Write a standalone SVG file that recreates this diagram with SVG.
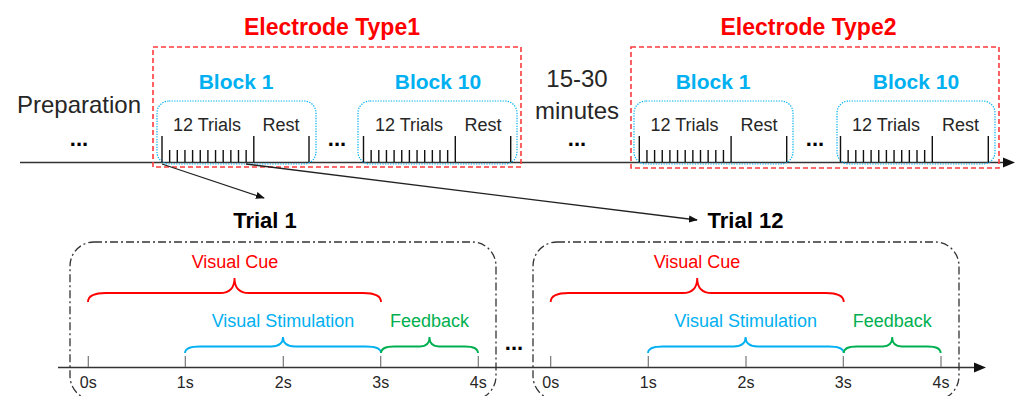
<svg xmlns="http://www.w3.org/2000/svg" width="1019" height="396" viewBox="0 0 1019 396">
<style>
text{font-family:"Liberation Sans",Arial,sans-serif;fill:#262626}
.title{font-size:23px;font-weight:bold;fill:#FF0000}
.blk{font-size:21px;font-weight:bold;fill:#00B0F0}
.big{font-size:24px}
.sm{font-size:18px}
.tk{font-size:16px}
.trial{font-size:22px;font-weight:bold;fill:#000}
.dots{font-size:22px;font-weight:bold;fill:#000}
.red{fill:#FF0000;font-size:18px}
.blue{fill:#00B0F0;font-size:18px}
.green{fill:#00B050;font-size:18px}
.etype{fill:none;stroke:#FF3B3B;stroke-width:1.6;stroke-dasharray:5 3}
.block{fill:none;stroke:#00B0F0;stroke-width:1.2;stroke-dasharray:1.3 1.3}
.tbox{fill:none;stroke:#333;stroke-width:1.3;stroke-dasharray:8 3 2 3}
.tick{stroke:#111;stroke-width:1.4}
.btick{stroke:#777;stroke-width:1.2}
.axis{stroke:#333;stroke-width:1.4;fill:none}
.conn{stroke:#222;stroke-width:1.3;fill:none}
.brace{fill:none;stroke-width:1.8}
</style>
<defs>
<marker id="ah" viewBox="0 0 10 10" refX="9" refY="5" markerWidth="9" markerHeight="9" markerUnits="userSpaceOnUse" orient="auto">
<path d="M0,1 L10,5 L0,9 Z" fill="#111"/>
</marker>
<marker id="ah2" viewBox="0 0 10 10" refX="9" refY="5" markerWidth="13" markerHeight="11" markerUnits="userSpaceOnUse" orient="auto">
<path d="M0,0 L10,5 L0,10 Z" fill="#111"/>
</marker>
</defs>

<g id="axes">
<line class="axis" x1="20" y1="162.5" x2="1004" y2="162.5"/>
<path d="M1003,157.5 L1015,162.5 L1003,167.5 Z" fill="#111"/>
<line class="axis" x1="58" y1="367.5" x2="976" y2="367.5"/>
<path d="M974,362.5 L986,367.5 L974,372.5 Z" fill="#111"/>
</g>

<g id="preparation">
<text class="big" x="79" y="113" text-anchor="middle">Preparation</text>
<text class="dots" x="79" y="146" text-anchor="middle">...</text>
</g>

<g id="gap">
<text class="big" x="577" y="87" text-anchor="middle">15-30</text>
<text class="big" x="577" y="119" text-anchor="middle">minutes</text>
<text class="dots" x="577" y="146" text-anchor="middle">...</text>
</g>

<g id="electrode-type1">
<rect class="etype" x="153" y="47" width="368" height="120"/>
<text class="title" x="332" y="35" text-anchor="middle">Electrode Type1</text>
<text class="dots" x="337" y="146" text-anchor="middle">...</text>
</g>

<g id="electrode-type2">
<rect class="etype" x="631" y="47" width="368" height="121"/>
<text class="title" x="808.5" y="35" text-anchor="middle">Electrode Type2</text>
<text class="dots" x="815" y="146" text-anchor="middle">...</text>
</g>

<g id="t1-block1">
<rect class="block" x="157" y="101" width="159" height="63" rx="12"/>
<text class="blk" x="236" y="89" text-anchor="middle">Block 1</text>
<text class="sm" x="207" y="131" text-anchor="middle">12 Trials</text>
<text class="sm" x="281" y="131" text-anchor="middle">Rest</text>
<path class="tick" d="M162,136V162 M169.65,150V162 M177.3,150V162 M184.95,150V162 M192.6,150V162 M200.25,150V162 M207.9,150V162 M215.55,150V162 M223.2,150V162 M230.85,150V162 M238.5,150V162 M246.15,150V162 M253.8,136V162 M309,136V162"/>
</g>

<g id="t1-block10">
<rect class="block" x="358" y="101" width="159" height="63" rx="12"/>
<text class="blk" x="438" y="89" text-anchor="middle">Block 10</text>
<text class="sm" x="409" y="131" text-anchor="middle">12 Trials</text>
<text class="sm" x="483" y="131" text-anchor="middle">Rest</text>
<path class="tick" d="M363.5,136V162 M371.15,150V162 M378.8,150V162 M386.45,150V162 M394.1,150V162 M401.75,150V162 M409.4,150V162 M417.05,150V162 M424.7,150V162 M432.35,150V162 M440,150V162 M447.65,150V162 M455.3,136V162 M510.7,136V162"/>
</g>

<g id="t2-block1">
<rect class="block" x="634" y="101" width="159" height="63" rx="12"/>
<text class="blk" x="713" y="89" text-anchor="middle">Block 1</text>
<text class="sm" x="684.5" y="131" text-anchor="middle">12 Trials</text>
<text class="sm" x="759" y="131" text-anchor="middle">Rest</text>
<path class="tick" d="M639.3,136V162 M646.95,150V162 M654.6,150V162 M662.25,150V162 M669.9,150V162 M677.55,150V162 M685.2,150V162 M692.85,150V162 M700.5,150V162 M708.15,150V162 M715.8,150V162 M723.45,150V162 M731.1,136V162 M786.7,136V162"/>
</g>

<g id="t2-block10">
<rect class="block" x="837" y="101" width="158" height="63" rx="12"/>
<text class="blk" x="916" y="89" text-anchor="middle">Block 10</text>
<text class="sm" x="886" y="131" text-anchor="middle">12 Trials</text>
<text class="sm" x="960.5" y="131" text-anchor="middle">Rest</text>
<path class="tick" d="M840.5,136V162 M848.15,150V162 M855.8,150V162 M863.45,150V162 M871.1,150V162 M878.75,150V162 M886.4,150V162 M894.05,150V162 M901.7,150V162 M909.35,150V162 M917,150V162 M924.65,150V162 M932.3,136V162 M988.3,136V162"/>
</g>

<g id="connectors">
<line class="conn" x1="162" y1="164" x2="264" y2="198" marker-end="url(#ah)"/>
<line class="conn" x1="246" y1="164" x2="697" y2="220" marker-end="url(#ah)"/>
</g>

<g id="trial1">
<text class="trial" x="265" y="228" text-anchor="middle">Trial 1</text>
<rect class="tbox" x="70" y="242" width="426" height="158" rx="24"/>
<text class="red" x="235" y="268" text-anchor="middle">Visual Cue</text>
<path class="brace" stroke="#FF0000" d="M88,302 Q88,293 106,293 L220,293 Q234.5,293 234.5,278 Q234.5,293 249,293 L363,293 Q381,293 381,302"/>
<text class="blue" x="283" y="327" text-anchor="middle">Visual Stimulation</text>
<path class="brace" stroke="#00B0F0" d="M185,353 Q185,346.5 200,346.5 L271,346.5 Q283,346.5 283,337 Q283,346.5 295,346.5 L366,346.5 Q381,346.5 381,353"/>
<text class="green" x="429.5" y="327" text-anchor="middle">Feedback</text>
<path class="brace" stroke="#00B050" d="M381,353 Q381,346.5 394,346.5 L420,346.5 Q429.5,346.5 429.5,337 Q429.5,346.5 439,346.5 L465,346.5 Q478,346.5 478,353"/>
<path class="btick" d="M88.3,356V367 M185.3,356V367 M283.3,356V367 M380.7,356V367 M478.3,356V367"/>
<text class="tk" x="88.3" y="388" text-anchor="middle">0s</text>
<text class="tk" x="185.3" y="388" text-anchor="middle">1s</text>
<text class="tk" x="283.3" y="388" text-anchor="middle">2s</text>
<text class="tk" x="380.7" y="388" text-anchor="middle">3s</text>
<text class="tk" x="478.3" y="388" text-anchor="middle">4s</text>
</g>

<text class="dots" x="514" y="350" text-anchor="middle">...</text>

<g id="trial12">
<text class="trial" x="745.5" y="228" text-anchor="middle">Trial 12</text>
<rect class="tbox" x="533" y="242" width="426" height="158" rx="24"/>
<text class="red" x="697" y="268" text-anchor="middle">Visual Cue</text>
<path class="brace" stroke="#FF0000" d="M550.7,302 Q550.7,293 568.7,293 L682.7,293 Q697.2,293 697.2,278 Q697.2,293 711.7,293 L825.7,293 Q843.7,293 843.7,302"/>
<text class="blue" x="745.6" y="327" text-anchor="middle">Visual Stimulation</text>
<path class="brace" stroke="#00B0F0" d="M648,353 Q648,346.5 663,346.5 L733.6,346.5 Q745.6,346.5 745.6,337 Q745.6,346.5 757.6,346.5 L828.7,346.5 Q843.7,346.5 843.7,353"/>
<text class="green" x="892.2" y="327" text-anchor="middle">Feedback</text>
<path class="brace" stroke="#00B050" d="M843.7,353 Q843.7,346.5 856.7,346.5 L882.7,346.5 Q892.2,346.5 892.2,337 Q892.2,346.5 901.7,346.5 L927.7,346.5 Q940.7,346.5 940.7,353"/>
<path class="btick" d="M550.7,356V367 M648.3,356V367 M746,356V367 M843.3,356V367 M941,356V367"/>
<text class="tk" x="550.7" y="388" text-anchor="middle">0s</text>
<text class="tk" x="648.3" y="388" text-anchor="middle">1s</text>
<text class="tk" x="746" y="388" text-anchor="middle">2s</text>
<text class="tk" x="843.3" y="388" text-anchor="middle">3s</text>
<text class="tk" x="941" y="388" text-anchor="middle">4s</text>
</g>
</svg>
